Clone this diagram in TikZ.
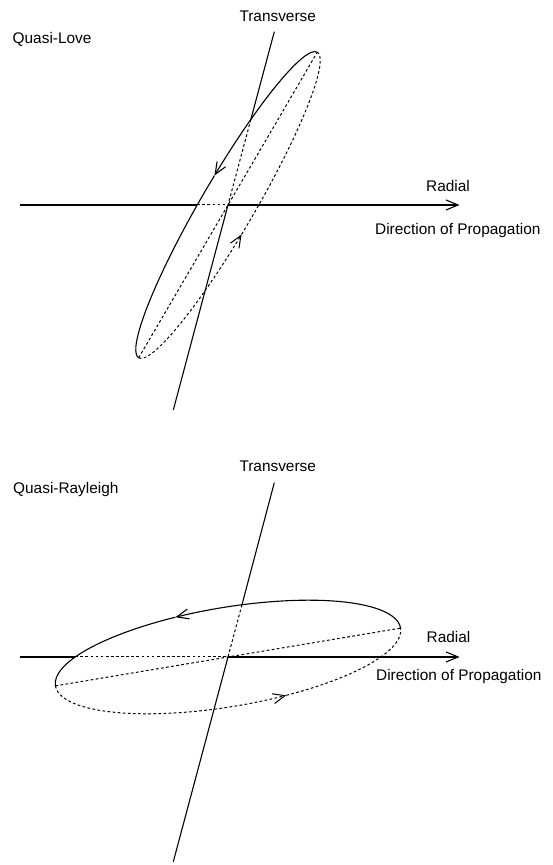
\documentclass[tikz,border=0pt]{standalone}
\usepackage{fontspec}
\setmainfont{Liberation Sans}
\usetikzlibrary{arrows.meta,calc}
\begin{document}
\begin{tikzpicture}[x=1pt,y=1pt,
  lbl/.style={font=\fontsize{15.4}{18}\selectfont, inner sep=0pt, anchor=base west},
  ax/.style={line width=1.1pt},
  hid/.style={line width=1pt, dash pattern=on 2.7pt off 2.4pt},
  tip/.style={-{Straight Barb[length=12pt,width=10pt]}}]
\useasboundingbox (0,0) rectangle (553,865);
% ---------- Quasi-Love ----------
\coordinate (c1) at (228,660);
\coordinate (r1a) at (20,660);
\coordinate (r1b) at (459.5,660);
\coordinate (t1a) at (274.3,833.3);
\coordinate (t1b) at (173.3,455);
\coordinate (e1r) at ($(c1)+(-30.8,0)$);
\coordinate (e1t) at ($(c1)+(75.04:88.5)$);
\begin{scope}[shift={(c1)},rotate=59.7]
  \draw[ax,tip] (177pt,0) arc[start angle=0,end angle=84,x radius=177pt,y radius=26.7pt];
  \draw[ax] ({177*cos(84)},{26.7*sin(84)}) arc[start angle=84,end angle=180,x radius=177pt,y radius=26.7pt];
  \draw[hid,tip] (-177pt,0) arc[start angle=180,end angle=264,x radius=177pt,y radius=26.7pt];
  \draw[hid] ({177*cos(264)},{26.7*sin(264)}) arc[start angle=264,end angle=360,x radius=177pt,y radius=26.7pt];
  \draw[hid] (-177pt,0) -- (177pt,0);
\end{scope}
\draw[ax] (r1a) -- (e1r);
\draw[hid] (e1r) -- (c1);
\draw[ax,tip] (c1) -- (r1b);
\draw[ax] (t1a) -- (e1t);
\draw[hid] (e1t) -- (c1);
\draw[ax] (c1) -- (t1b);
\node[lbl] (ql) at (12.5,821) {Quasi-Love};
\node[lbl] (tr1) at (239.3,843.5) {Transverse};
\node[lbl] (rad1) at (426,673.3) {Radial};
\node[lbl] (dir1) at (375,630.5) {Direction of Propagation};
% ---------- Quasi-Rayleigh ----------
\coordinate (c2) at (228,208);
\coordinate (r2a) at (20,208);
\coordinate (r2b) at (459.5,208);
\coordinate (t2a) at (274.3,382.3);
\coordinate (t2b) at (173.3,3.3);
\coordinate (e2r) at ($(c2)+(-152.8,0)$);
\coordinate (e2t) at ($(c2)+(75.04:54)$);
\begin{scope}[shift={(c2)},rotate=9.5]
  \draw[ax,tip] (175pt,0) arc[start angle=0,end angle=105,x radius=175pt,y radius=49.6pt];
  \draw[ax] ({175*cos(105)},{49.6*sin(105)}) arc[start angle=105,end angle=180,x radius=175pt,y radius=49.6pt];
  \draw[hid,tip] (-175pt,0) arc[start angle=180,end angle=287,x radius=175pt,y radius=49.6pt];
  \draw[hid] ({175*cos(287)},{49.6*sin(287)}) arc[start angle=287,end angle=360,x radius=175pt,y radius=49.6pt];
  \draw[hid] (-175pt,0) -- (175pt,0);
\end{scope}
\draw[ax] (r2a) -- (e2r);
\draw[hid] (e2r) -- (c2);
\draw[ax,tip] (c2) -- (r2b);
\draw[ax] (t2a) -- (e2t);
\draw[hid] (e2t) -- (c2);
\draw[ax] (c2) -- (t2b);
\node[lbl] (qr) at (13,371.5) {Quasi-Rayleigh};
\node[lbl] (tr2) at (239.3,393) {Transverse};
\node[lbl] (rad2) at (426.5,222) {Radial};
\node[lbl] (dir2) at (376,184.3) {Direction of Propagation};
\end{tikzpicture}
\end{document}
